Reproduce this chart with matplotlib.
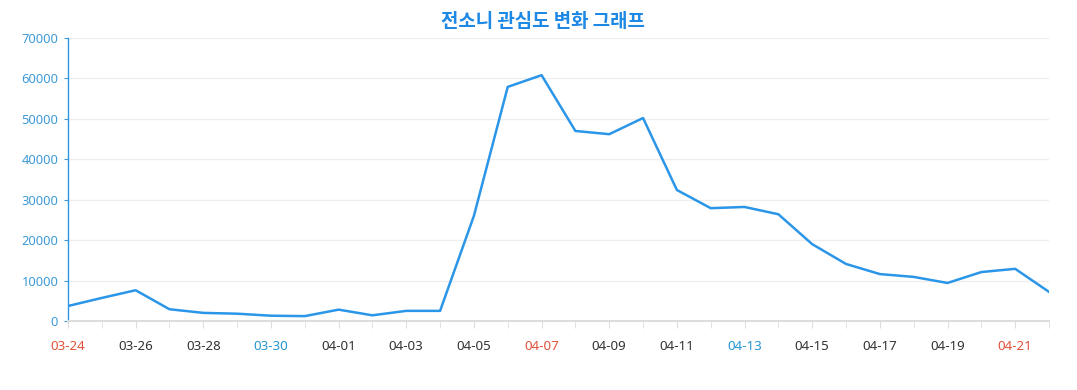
import matplotlib
matplotlib.use("Agg")
import matplotlib.pyplot as plt

dates = ["03-24", "03-25", "03-26", "03-27", "03-28", "03-29", "03-30", "03-31",
         "04-01", "04-02", "04-03", "04-04", "04-05", "04-06", "04-07", "04-08",
         "04-09", "04-10", "04-11", "04-12", "04-13", "04-14", "04-15", "04-16",
         "04-17", "04-18", "04-19", "04-20", "04-21", "04-22"]
values = [3700, 5700, 7600, 2900, 2000, 1800, 1300, 1200,
          2800, 1400, 2500, 2500, 26000, 57900, 60800, 47000,
          46200, 50200, 32400, 27900, 28200, 26400, 19000, 14100,
          11600, 10900, 9400, 12100, 12900, 7200]
sundays = ["03-24", "04-07", "04-21"]
saturdays = ["03-30", "04-13"]
title = "전소니 관심도 변화 그래프"
yticks = [0, 10000, 20000, 30000, 40000, 50000, 60000, 70000]

plt.rcParams['font.family'] = ['Noto Sans', 'Noto Sans CJK KR', 'DejaVu Sans']

fig = plt.figure(figsize=(10.77, 3.9), dpi=100)
ax = fig.add_axes([0.0631, 0.177, 0.9109, 0.7256])

x = list(range(len(dates)))
ax.plot(x, values, color="#2b96e8", linewidth=1.8, zorder=3)

ax.set_xlim(0, len(dates) - 1)
ax.set_ylim(0, 70000)
ax.set_yticks(yticks)
ax.set_yticklabels([str(v) for v in yticks], color="#3d9ad8", fontsize=9.3)
ax.grid(axis="y", color="#eeeeee", linewidth=0.9, zorder=0)

ax.set_xticks(x, minor=True)
major = x[::2]
ax.set_xticks(major)
labels = [dates[i] for i in major]
ax.set_xticklabels(labels, fontsize=9.6)
for lbl in ax.get_xticklabels():
    t = lbl.get_text()
    if t in sundays:
        lbl.set_color("#e0533a")
    elif t in saturdays:
        lbl.set_color("#2596d1")
    else:
        lbl.set_color("#333333")

ax.tick_params(axis="x", which="both", length=5, color="#dddddd", pad=9)
ax.tick_params(axis="y", length=3, color="#3d9ad8", pad=4)

for s in ["top", "right"]:
    ax.spines[s].set_visible(False)
ax.spines["left"].set_color("#2b96e8")
ax.spines["left"].set_linewidth(1.0)
ax.spines["bottom"].set_color("#dddddd")
ax.spines["bottom"].set_linewidth(1.5)

fig.text(0.5042, 0.945, title, ha="center", va="center", fontsize=13.6,
         fontweight="bold", color="#1e88e5",
         family=['Noto Sans CJK KR', 'DejaVu Sans'])

fig.savefig("out.png", dpi=100)
